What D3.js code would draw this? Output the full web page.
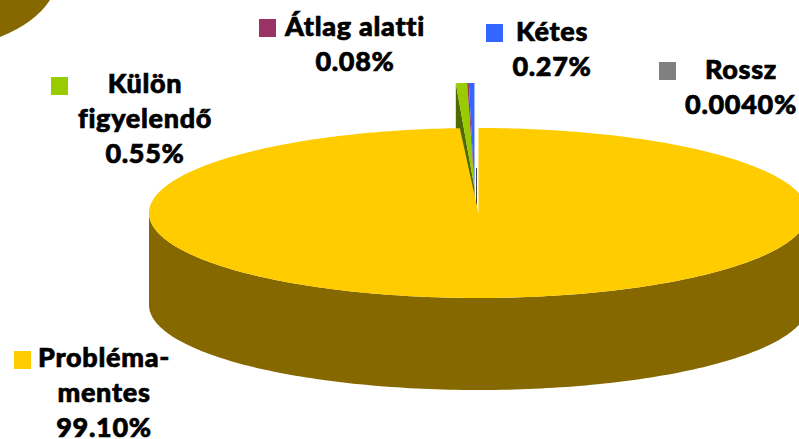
<!DOCTYPE html>
<html>
<head>
<meta charset="utf-8">
<script src="https://cdn.jsdelivr.net/npm/d3@7"></script>
<style>
  html, body { margin: 0; padding: 0; background: #fff; overflow: hidden; }
  text { font-family: Lato, sans-serif; font-weight: 900; fill: #000; stroke: #000; stroke-width: 0.7px; letter-spacing: 0.7px; }
</style>
</head>
<body>
<div id="visualization"></div>
<script>
// chart data
const categories = ["Problémamentes", "Külön figyelendő", "Átlag alatti", "Kétes", "Rossz"];
const shares = [99.10, 0.55, 0.08, 0.27, 0.0040];
const valueLabels = ["99.10%", "0.55%", "0.08%", "0.27%", "0.0040%"];
const labelLines = [["Probléma-", "mentes"], ["Külön", "figyelendő"], ["Átlag alatti"], ["Kétes"], ["Rossz"]];
const topColors = ["#ffcc00", "#99cc00", "#993366", "#3366ff", "#808080"];
const wallColors = ["#856800", "#4f6a00", "#4d1a33", "#1a3380", "#404040"];

const svgWidth = 799;
const svgHeight = 439;

// pie geometry, top face ellipse
const cx = 478.5, cy = 213, rx = 329.5, ry = 85, depth = 92;
// the small slices sit higher up and look a bit longer than the big one
const smallCx = 474.5, smallCy = 188, smallRy = 105;

const svg = d3.select("#visualization")
  .append("svg")
  .attr("width", svgWidth)
  .attr("height", svgHeight)
  .style("display", "block");

const pieData = d3.pie().sort(null).value(d => d)(shares);

function wedgePath(d, ox, oy, radiusY) {
  const steps = Math.max(2, Math.ceil((d.endAngle - d.startAngle) * 60));
  const angles = d3.range(steps + 1).map(i => d.startAngle + (d.endAngle - d.startAngle) * i / steps);
  const pts = [[ox, oy]].concat(angles.map(a => [ox + rx * Math.sin(a), oy - radiusY * Math.cos(a)]));
  return d3.line()(pts) + "Z";
}

// piece of the neighbouring pie cut off by the corner
svg.append("path")
  .attr("d", "M0,0L50,0Q35,23 0,37Z")
  .attr("fill", wallColors[0]);

// small slices first, the big one covers them
const small = pieData.slice(1);

// cut face on the left of the small group
const faceX = smallCx + rx * Math.sin(small[0].startAngle);
const faceY = smallCy - smallRy * Math.cos(small[0].startAngle);
svg.append("path")
  .attr("d", d3.line()([[faceX, faceY], [smallCx, smallCy], [smallCx, smallCy + depth], [faceX, faceY + depth]]) + "Z")
  .attr("fill", wallColors[1]);

small.forEach((d, i) => {
  svg.append("path")
    .attr("d", wedgePath(d, smallCx, smallCy, smallRy))
    .attr("fill", topColors[i + 1]);
});

// thin dark face of the Rossz slice, seen through the gap
svg.append("rect")
  .attr("x", 476)
  .attr("y", 168)
  .attr("width", 1)
  .attr("height", 37)
  .attr("fill", wallColors[4]);

// big slice: front wall then top
const frontAngles = d3.range(Math.PI / 2, Math.PI * 1.5 + 0.001, 0.02);
const wall = d3.area()
  .x(a => cx + rx * Math.sin(a))
  .y0(a => cy - ry * Math.cos(a))
  .y1(a => cy - ry * Math.cos(a) + depth);

svg.append("path")
  .attr("d", wall(frontAngles))
  .attr("fill", wallColors[0]);

svg.append("path")
  .attr("d", wedgePath(pieData[0], cx, cy, ry))
  .attr("fill", topColors[0]);

// labels
const legendPos = [
  { box: [14, 351], x: 104, y: 367 },
  { box: [51, 77], x: 145, y: 93 },
  { box: [259, 19], x: 355, y: 36 },
  { box: [486, 24], x: 552, y: 41 },
  { box: [659, 62], x: 741, y: 79 }
];
const lineGap = 35;

categories.forEach((c, i) => {
  const p = legendPos[i];
  svg.append("rect")
    .attr("x", p.box[0])
    .attr("y", p.box[1])
    .attr("width", 17)
    .attr("height", 18)
    .attr("fill", topColors[i]);

  const lines = labelLines[i].concat([valueLabels[i]]);
  svg.selectAll(null)
    .data(lines)
    .enter()
    .append("text")
    .attr("x", p.x)
    .attr("y", (d, j) => p.y + j * lineGap)
    .attr("text-anchor", "middle")
    .style("font-size", "27px")
    .text(d => d);
});
</script>
</body>
</html>
